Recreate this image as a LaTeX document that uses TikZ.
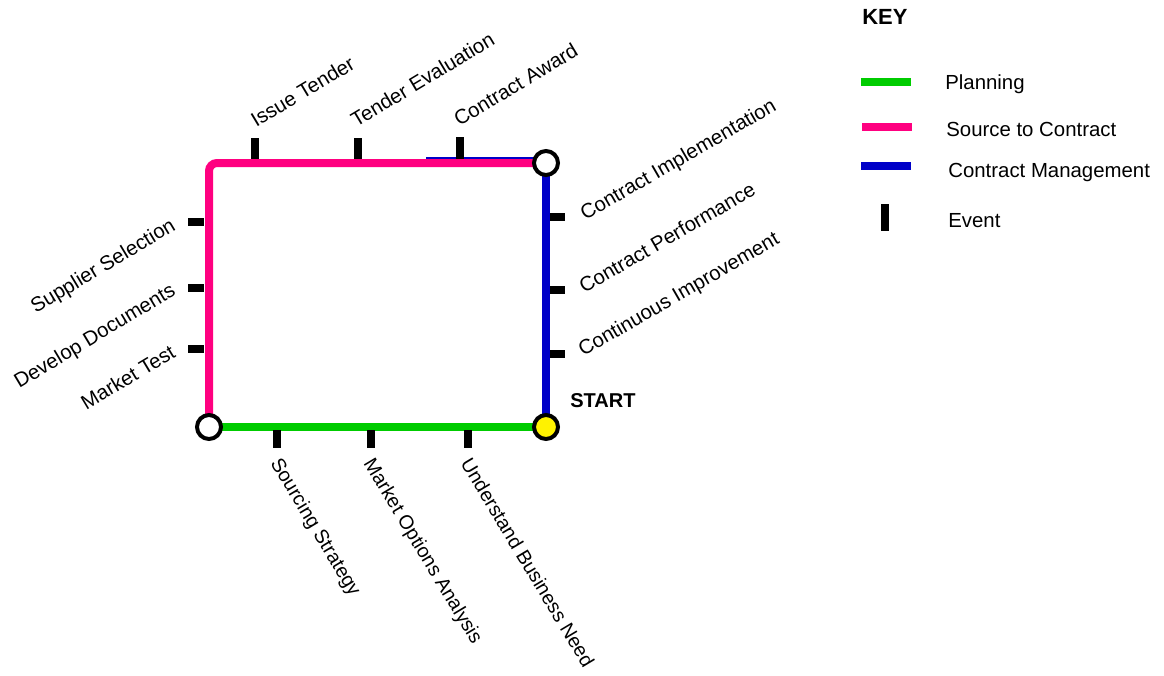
\documentclass[tikz,border=0pt]{standalone}
\usepackage{fontspec}
\setmainfont{Liberation Sans}
\usetikzlibrary{backgrounds}

\definecolor{planGreen}{RGB}{0,204,0}
\definecolor{sourcePink}{RGB}{255,0,128}
\definecolor{mgmtBlue}{RGB}{0,0,200}

\tikzset{
  planline/.style={draw=planGreen, line width=0.16cm},
  sourceline/.style={draw=sourcePink, line width=0.16cm},
  mgmtline/.style={draw=mgmtBlue, line width=0.16cm},
  evtick/.style={line width=0.16cm},
  station/.style={circle, draw=black, line width=0.08cm, fill=white, minimum size=0.48cm, inner sep=0pt},
  lbl/.style={inner sep=0pt}
}

\begin{document}
\begin{tikzpicture}[x=0.02cm, y=-0.02cm, font=\fontsize{11.6}{14}\selectfont]
  \useasboundingbox (0,0) rectangle (1164,676);

  % stations
  \node[station] (tr) at (546,163) {};
  \node[station] (bl) at (209,427) {};
  \node[station, fill=yellow] (st) at (546,427) {};

  % the three lines
  \begin{scope}[on background layer]
    \draw[mgmtBlue, line width=0.6pt] (426,158) -- (540,158);
    \draw[sourceline, rounded corners=0.16cm] (bl.center) |- (tr.center);
    \draw[mgmtline] (tr.center) -- (st.center);
    \draw[planline] (bl.center) -- (st.center);
  \end{scope}

  % events
  \draw[evtick] (255,138) -- (255,159);
  \draw[evtick] (358,138) -- (358,159);
  \draw[evtick] (460,137) -- (460,159);
  \draw[evtick] (188,222) -- (204,222);
  \draw[evtick] (188,288) -- (204,288);
  \draw[evtick] (188,349) -- (204,349);
  \draw[evtick] (550,217) -- (565,217);
  \draw[evtick] (550,290) -- (565,290);
  \draw[evtick] (550,354) -- (565,354);
  \draw[evtick] (277,430) -- (277,448);
  \draw[evtick] (371,430) -- (371,448);
  \draw[evtick] (468,430) -- (468,448);

  % labels
  \node[lbl, rotate=31, anchor=base west] (issue) at (256,128) {Issue Tender};
  \node[lbl, rotate=31, anchor=base west] (evaluation) at (356,128) {Tender Evaluation};
  \node[lbl, rotate=31, anchor=base west] (award) at (459,127) {Contract Award};
  \node[lbl, rotate=31, anchor=base east] (supplier) at (177,229) {Supplier Selection};
  \node[lbl, rotate=31, anchor=base east] (documents) at (177,294) {Develop Documents};
  \node[lbl, rotate=31, anchor=base east] (market) at (177,356) {Market Test};
  \node[lbl, rotate=30, anchor=base west] (implement) at (585,221) {Contract Implementation};
  \node[lbl, rotate=30, anchor=base west] (perform) at (584,294) {Contract Performance};
  \node[lbl, rotate=30, anchor=base west] (improve) at (583,357) {Continuous Improvement};
  \begin{scope}[font=\fontsize{11.2}{14}\selectfont]
    \node[lbl, rotate=-59, anchor=base west] (sourcing) at (270,463) {Sourcing Strategy};
    \node[lbl, rotate=-59, anchor=base west] (options) at (363,463) {Market Options Analysis};
    \node[lbl, rotate=-59, anchor=base west] (need) at (460,463) {Understand Business Need};
  \end{scope}
  \node[lbl, anchor=base west, font=\fontsize{11.4}{14}\selectfont\bfseries] (start) at (570,407) {START};

  % key
  \node[lbl, anchor=base west, font=\fontsize{12.5}{15}\selectfont\bfseries] (key) at (862,25) {KEY};
  \draw[planline] (861,82) -- (911,82);
  \draw[sourceline] (862,127) -- (912,127);
  \draw[mgmtline] (861,166) -- (911,166);
  \draw[evtick] (885,204) -- (885,231);
  \node[lbl, anchor=base west] (kplan) at (945,89) {Planning};
  \node[lbl, anchor=base west] (ksource) at (946,136) {Source to Contract};
  \node[lbl, anchor=base west] (kmgmt) at (948,177) {Contract Management};
  \node[lbl, anchor=base west] (kevent) at (948,227) {Event};
\end{tikzpicture}
\end{document}
